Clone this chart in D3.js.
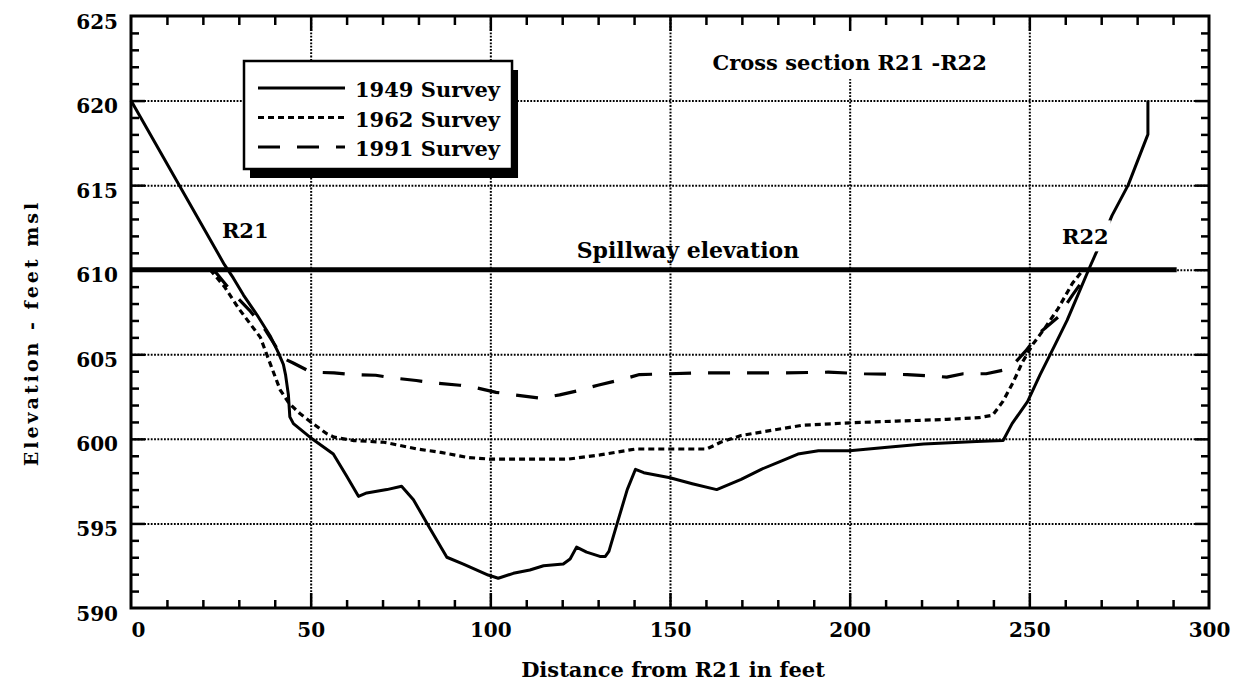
<!DOCTYPE html>
<html>
<head>
<meta charset="utf-8">
<script src="https://cdn.jsdelivr.net/npm/d3@7"></script>
<style>
  body { margin: 0; background: #fff; }
  svg text { font-family: "DejaVu Serif", serif; font-weight: bold; fill: #000; }
</style>
</head>
<body>
<svg id="section" width="1241" height="696"></svg>
<script>
// tick labels
const xTickLabels = [0, 50, 100, 150, 200, 250, 300];
const yTickLabels = [590, 595, 600, 605, 610, 615, 620, 625];

// 1949 survey
const dist1949 = [0, 26, 28.5, 31.3, 35, 38.7, 41, 42.4, 43, 43.8, 44.2, 45.2, 49.8, 56.3, 60, 63.3, 65.6, 71.2, 75.3, 78.6,
  83.2, 87.9, 92.5, 99.4, 102.2, 106.4, 111, 114.8, 120.3, 122.2, 124, 126.8, 130.5, 132, 133, 135.3, 138.1, 140.4, 142.7, 150,
  156.2, 163, 169.8, 175.4, 181.1, 185.6, 191.3, 200, 210.5, 220.6, 235.3, 242.7, 245.2, 249.5, 253, 257, 260.5, 263.5, 266.5,
  268.8, 273, 277.5, 283, 283];
const elev1949 = [620, 610.3, 609.5, 608.5, 607.35, 606.1, 605.1, 604.4, 603.8, 602.6, 601.3, 600.9, 600.1, 599.1, 597.8, 596.6, 596.8, 597.0, 597.2, 596.4,
  594.7, 593.0, 592.6, 591.95, 591.76, 592.05, 592.25, 592.5, 592.6, 592.9, 593.6, 593.3, 593.05, 593.05, 593.35, 595.0, 597.0, 598.2, 598.0, 597.7,
  597.35, 597.0, 597.6, 598.2, 598.7, 599.1, 599.3, 599.3, 599.5, 599.7, 599.85, 599.9, 600.9, 602.2, 603.8, 605.5, 607, 608.5, 610,
  611.1, 613.2, 615, 618, 620];

// 1962 survey
const dist1962 = [22, 26, 30, 36, 39, 41.5, 44, 47, 50, 54.5, 56.5, 62, 70.4, 79.7, 86.2, 93.7, 100, 112.3, 121.6, 130.5,
  140.4, 150, 160.2, 164.1, 169.8, 175.4, 186.7, 200, 213, 227, 236, 239.8, 242.6, 245.4, 248, 251, 254.5, 258, 262, 265];
const elev1962 = [610, 609, 607.7, 606, 604.3, 602.9, 602.1, 601.5, 601, 600.3, 600.1, 599.9, 599.8, 599.4, 599.2, 598.9, 598.8, 598.8, 598.8, 599.05,
  599.4, 599.4, 599.4, 599.8, 600.2, 600.4, 600.8, 600.95, 601.05, 601.15, 601.25, 601.4, 602.2, 603.3, 604.5, 605.6, 606.6, 607.7, 609.2, 610];

// 1991 survey
const dist1991 = [23, 28, 33, 37.5, 40.5, 42, 45, 50, 56.5, 61.6, 68.1, 72.9, 79.4, 84.5, 91.5, 95.5, 101.6, 106.7, 114.2, 119.3,
  124.4, 129.9, 136.5, 141.5, 158.7, 181, 194, 204, 216, 224, 227, 231.6, 238, 243.5, 246, 249, 253, 258, 262, 266];
const elev1991 = [610, 608.7, 607.6, 606.4, 605.4, 604.8, 604.5, 603.95, 603.9, 603.8, 603.76, 603.6, 603.45, 603.3, 603.17, 603.05, 602.75, 602.6, 602.4, 602.6,
  602.85, 603.17, 603.5, 603.8, 603.9, 603.9, 603.94, 603.85, 603.8, 603.7, 603.65, 603.85, 603.85, 604.1, 604.5, 605.2, 606.3, 607.2, 608.5, 609.7];

// spillway
const spillDist = [0, 291];
const spillElev = [610, 610];

const surveys = ["1949 Survey", "1962 Survey", "1991 Survey"];
const dashes = [null, "6,4", "22,17"];

const svg = d3.select("svg#section");
const width = +svg.attr("width");
const height = +svg.attr("height");
const margins = { top: 16, right: 32, bottom: 88, left: 131 };
const chartWidth = width - margins.left - margins.right;
const chartHeight = height - margins.top - margins.bottom;

const x = d3.scaleLinear().domain([0, 300]).range([0, chartWidth]);
const y = d3.scaleLinear().domain([590, 625]).range([chartHeight, 0]);

const chart = svg.append("g").attr("transform", `translate(${margins.left},${margins.top})`);

// dotted grid
const grid = chart.append("g").attr("class", "grid");
grid.append("g")
  .call(d3.axisBottom(x).tickValues(xTickLabels.slice(1, -1)).tickSize(chartHeight).tickFormat(""));
grid.append("g")
  .call(d3.axisLeft(y).tickValues(yTickLabels.slice(1, -1)).tickSize(-chartWidth).tickFormat(""));
grid.selectAll(".domain").remove();
grid.selectAll("line").attr("stroke", "#000").attr("stroke-width", 2).attr("stroke-dasharray", "1.8,1.5");

// survey lines
const series = [
  d3.zip(dist1949, elev1949),
  d3.zip(dist1962, elev1962),
  d3.zip(dist1991, elev1991)
];
const line = d3.line().x(d => x(d[0])).y(d => y(d[1]));
chart.selectAll("path.survey").data(series).enter()
  .append("path")
  .attr("class", "survey")
  .attr("d", line)
  .attr("fill", "none")
  .attr("stroke", "#000")
  .attr("stroke-width", (d, i) => i == 0 ? 3 : 3.2)
  .attr("stroke-linejoin", "round")
  .attr("stroke-dasharray", (d, i) => dashes[i]);

// spillway
chart.append("path")
  .attr("d", line(d3.zip(spillDist, spillElev)))
  .attr("stroke", "#000")
  .attr("stroke-width", 5)
  .attr("fill", "none");

chart.append("text")
  .text("Spillway elevation")
  .attr("x", x(155))
  .attr("y", y(610.7))
  .attr("text-anchor", "middle")
  .style("font-size", "22px");

chart.append("text")
  .text("R21")
  .attr("x", x(25.3))
  .attr("y", y(611.9))
  .style("font-size", "21px");

const r22 = chart.append("text")
  .text("R22")
  .attr("x", x(259.1))
  .attr("y", y(611.5))
  .style("font-size", "21px");
const r22box = r22.node().getBBox();
chart.insert("rect", () => r22.node())
  .attr("x", r22box.x - 2).attr("y", r22box.y - 4)
  .attr("width", r22box.width + 4).attr("height", r22box.height + 6)
  .attr("fill", "#fff");

// title with white backing
const title = chart.append("text")
  .text("Cross section R21 -R22")
  .attr("x", x(200))
  .attr("y", y(621.8))
  .attr("text-anchor", "middle")
  .style("font-size", "21px");
const tb = title.node().getBBox();
chart.insert("rect", () => title.node())
  .attr("x", tb.x - 6).attr("y", 6)
  .attr("width", tb.width + 12).attr("height", tb.y + tb.height - 2)
  .attr("fill", "#fff");

// legend
const legend = chart.append("g").attr("transform", `translate(${244 - margins.left},${61 - margins.top})`);
const legendShadow = legend.append("rect");
const legendBox = legend.append("rect");
const rows = legend.selectAll("g.row").data(surveys).enter()
  .append("g").attr("class", "row")
  .attr("transform", (d, i) => `translate(0,${27 + i * 29.5})`);
rows.append("line")
  .attr("x1", 14).attr("x2", 101)
  .attr("stroke", "#000")
  .attr("stroke-width", (d, i) => i == 0 ? 3 : 3.2)
  .attr("stroke-dasharray", (d, i) => dashes[i]);
rows.append("text")
  .text(d => d)
  .attr("x", 111)
  .attr("y", 9)
  .style("font-size", "21px");
const legendWidth = d3.max(rows.selectAll("text").nodes(), n => n.getComputedTextLength()) + 111 + 12;
legendShadow.attr("x", 6).attr("y", 9).attr("width", legendWidth).attr("height", 108).attr("fill", "#000");
legendBox.attr("width", legendWidth).attr("height", 108).attr("fill", "#fff").attr("stroke", "#000").attr("stroke-width", 2.5);

// ticks on all four sides, pointing in
const minorX = d3.range(10, 300, 10).filter(v => v % 50 != 0);
const majorX = xTickLabels.slice(1, -1);
const minorY = d3.range(591, 625, 1).filter(v => v % 5 != 0);
const majorY = yTickLabels.slice(1, -1);
const ticks = chart.append("g").attr("class", "ticks");
ticks.append("g").attr("transform", `translate(0,${chartHeight})`).call(d3.axisBottom(x).tickValues(minorX).tickSize(-8).tickFormat(""));
ticks.append("g").attr("transform", `translate(0,${chartHeight})`).call(d3.axisBottom(x).tickValues(majorX).tickSize(-15).tickFormat(""));
ticks.append("g").call(d3.axisTop(x).tickValues(minorX).tickSize(-9).tickFormat(""));
ticks.append("g").call(d3.axisTop(x).tickValues(majorX).tickSize(-15).tickFormat(""));
ticks.append("g").call(d3.axisLeft(y).tickValues(minorY).tickSize(-8).tickFormat(""));
ticks.append("g").call(d3.axisLeft(y).tickValues(majorY).tickSize(-14).tickFormat(""));
ticks.append("g").attr("transform", `translate(${chartWidth},0)`).call(d3.axisRight(y).tickValues(minorY).tickSize(-8).tickFormat(""));
ticks.append("g").attr("transform", `translate(${chartWidth},0)`).call(d3.axisRight(y).tickValues(majorY).tickSize(-14).tickFormat(""));
ticks.selectAll(".domain").remove();
ticks.selectAll("line").attr("stroke", "#000").attr("stroke-width", 2.5);

// frame
chart.append("rect")
  .attr("width", chartWidth).attr("height", chartHeight)
  .attr("fill", "none").attr("stroke", "#000").attr("stroke-width", 3);

// tick labels
const xLabels = chart.append("g").attr("transform", `translate(0,${chartHeight})`)
  .call(d3.axisBottom(x).tickValues(xTickLabels).tickSize(0).tickPadding(15));
const yLabels = chart.append("g")
  .call(d3.axisLeft(y).tickValues(yTickLabels).tickSize(0).tickPadding(13));
[xLabels, yLabels].forEach(a => {
  a.select(".domain").remove();
  a.attr("font-family", null).attr("font-size", null);
  a.selectAll("text").style("font-size", "20px");
});
yLabels.selectAll("text").attr("dy", "0.6em");
xLabels.selectAll("text").filter(d => d == 0).attr("dx", 7);

// axis titles
svg.append("text")
  .text("Distance from R21 in feet")
  .attr("x", 673)
  .attr("y", 677)
  .attr("text-anchor", "middle")
  .style("font-size", "21px");
svg.append("text")
  .text("Elevation - feet msl")
  .attr("transform", "rotate(-90,38,333)")
  .attr("x", 38)
  .attr("y", 333)
  .attr("text-anchor", "middle")
  .style("font-size", "19px")
  .style("letter-spacing", "3px");
</script>
</body>
</html>
